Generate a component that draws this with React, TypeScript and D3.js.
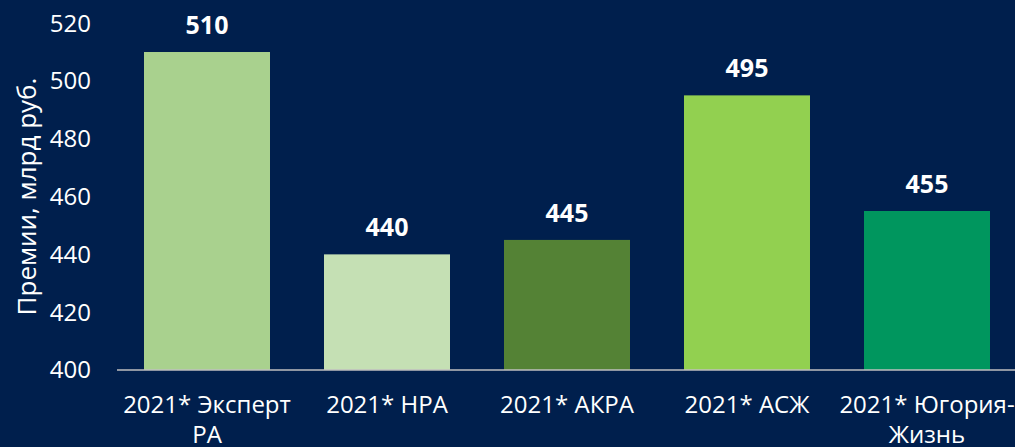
import React, { useEffect } from "react";
import * as d3 from "d3";

const categories = ["2021* Эксперт РА", "2021* НРА", "2021* АКРА", "2021* АСЖ", "2021* Югория-Жизнь"];
const values = [510, 440, 445, 495, 455];
const barColors = ["#a9d18e", "#c5e0b4", "#548235", "#92d050", "#00965e"];
const yTicks = [400, 420, 440, 460, 480, 500, 520];
const yTitle = "Премии, млрд руб.";

const W = 1015;
const H = 447;
const BG = "#001f4d";
const FONT = "'Open Sans', sans-serif";

function wrapLabel(text: string, maxW: number, font: string): string[] {
  const canvas = document.createElement("canvas");
  const ctx = canvas.getContext("2d")!;
  ctx.font = font;
  const tokens: string[] = [];
  text.split(" ").forEach((w, i) => {
    const parts = w.split(/(?<=-)/);
    parts.forEach((p, j) => tokens.push((i > 0 && j === 0 ? " " : "") + p));
  });
  const lines: string[] = [];
  let cur = "";
  tokens.forEach((t) => {
    const test = cur + t;
    if (cur && ctx.measureText(test).width > maxW) {
      lines.push(cur);
      cur = t.trimStart();
    } else {
      cur = test;
    }
  });
  if (cur) lines.push(cur);
  return lines;
}

export default function App() {
  useEffect(() => {
    document.body.style.margin = "0";
  }, []);

  const x = d3.scaleBand<string>().domain(categories).range([117, 1017]).paddingInner(0.3).paddingOuter(0.15);
  const y = d3.scaleLinear().domain([400, 520]).range([370, 23.1]);

  return (
    <svg width={W} height={H} style={{ display: "block" }}>
      <rect x={0} y={0} width={W} height={H} fill={BG} />
      {yTicks.map((t) => (
        <text key={t} x={91} y={y(t)} dy="0.35em" textAnchor="end" fill="#ffffff" fontFamily={FONT} fontSize={24}>
          {t}
        </text>
      ))}
      <text
        transform={`translate(36, ${(y(400) + y(520)) / 2}) rotate(-90)`}
        textAnchor="middle"
        fill="#ffffff"
        fontFamily={FONT}
        fontSize={26}
      >
        {yTitle}
      </text>
      {categories.map((c, i) => (
        <rect key={c} x={x(c)} y={y(values[i])} width={x.bandwidth()} height={y(400) - y(values[i])} fill={barColors[i]} />
      ))}
      <line x1={117} x2={W} y1={y(400)} y2={y(400)} stroke="#bfbfbf" strokeWidth={1.5} />
      {categories.map((c, i) => (
        <text
          key={"v" + c}
          x={(x(c) as number) + x.bandwidth() / 2}
          y={y(values[i]) - 18}
          textAnchor="middle"
          fill="#ffffff"
          fontFamily={FONT}
          fontWeight="bold"
          fontSize={25}
        >
          {values[i]}
        </text>
      ))}
      {categories.map((c) => {
        const lines = wrapLabel(c, x.step(), `24px 'Open Sans'`);
        return (
          <text
            key={"l" + c}
            x={(x(c) as number) + x.bandwidth() / 2}
            y={413}
            textAnchor="middle"
            fill="#ffffff"
            fontFamily={FONT}
            fontSize={24}
          >
            {lines.map((l, j) => (
              <tspan key={j} x={(x(c) as number) + x.bandwidth() / 2} dy={j === 0 ? 0 : 30}>
                {l}
              </tspan>
            ))}
          </text>
        );
      })}
    </svg>
  );
}
